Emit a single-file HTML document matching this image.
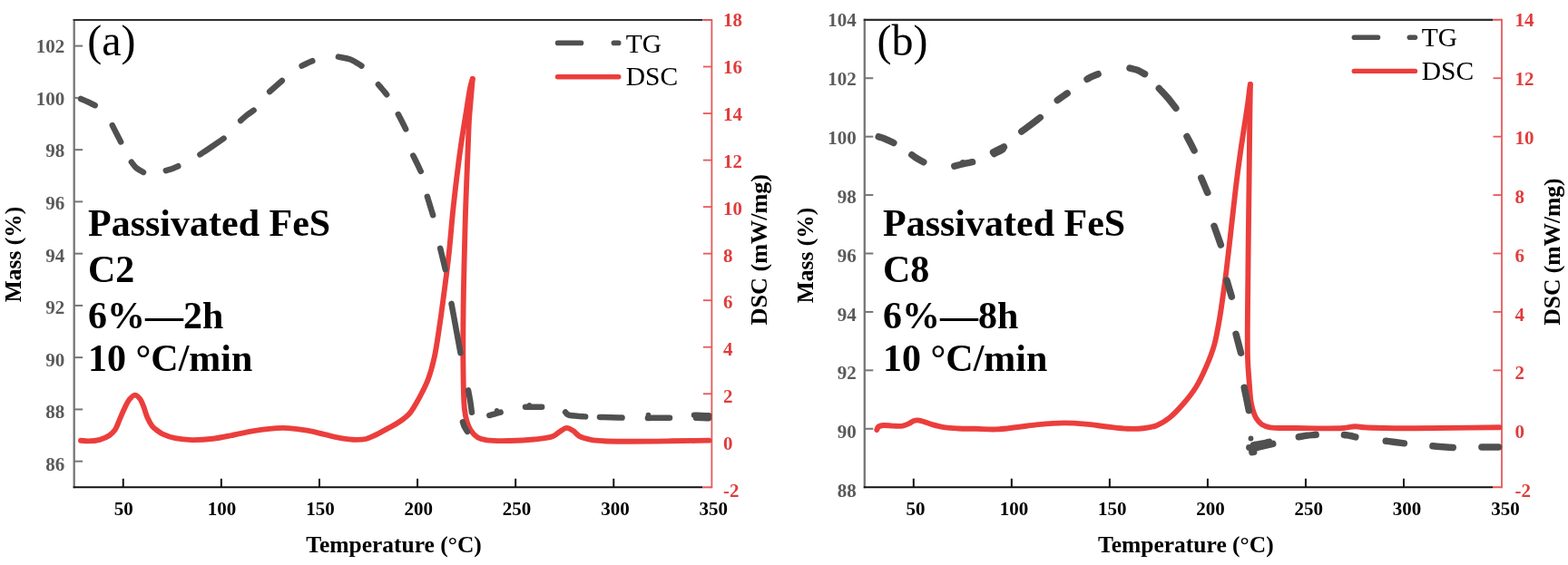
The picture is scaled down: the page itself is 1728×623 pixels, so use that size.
<!DOCTYPE html>
<html><head><meta charset="utf-8"><title>TG-DSC</title>
<style>html,body{margin:0;padding:0;background:#fff;overflow:hidden}svg{display:block}</style>
</head><body><div id="w">
<svg width="1728" height="623" viewBox="0 0 1728 623" font-family='"Liberation Serif", "Times New Roman", serif'>
<rect width="1728" height="623" fill="#fff"/>
<line x1="81.7" y1="21" x2="81.7" y2="538.3" stroke="#767676" stroke-width="2.3"/>
<line x1="81.7" y1="508.67" x2="91.2" y2="508.67" stroke="#767676" stroke-width="2"/>
<text x="71.2" y="519.08" font-size="21" font-weight="bold" fill="#5a5a5a" text-anchor="end">86</text>
<line x1="81.7" y1="451.42" x2="91.2" y2="451.42" stroke="#767676" stroke-width="2"/>
<text x="71.2" y="461.43" font-size="21" font-weight="bold" fill="#5a5a5a" text-anchor="end">88</text>
<line x1="81.7" y1="394.16" x2="91.2" y2="394.16" stroke="#767676" stroke-width="2"/>
<text x="71.2" y="403.79" font-size="21" font-weight="bold" fill="#5a5a5a" text-anchor="end">90</text>
<line x1="81.7" y1="336.91" x2="91.2" y2="336.91" stroke="#767676" stroke-width="2"/>
<text x="71.2" y="346.14" font-size="21" font-weight="bold" fill="#5a5a5a" text-anchor="end">92</text>
<line x1="81.7" y1="279.65" x2="91.2" y2="279.65" stroke="#767676" stroke-width="2"/>
<text x="71.2" y="288.5" font-size="21" font-weight="bold" fill="#5a5a5a" text-anchor="end">94</text>
<line x1="81.7" y1="222.39" x2="91.2" y2="222.39" stroke="#767676" stroke-width="2"/>
<text x="71.2" y="230.86" font-size="21" font-weight="bold" fill="#5a5a5a" text-anchor="end">96</text>
<line x1="81.7" y1="165.14" x2="91.2" y2="165.14" stroke="#767676" stroke-width="2"/>
<text x="71.2" y="173.21" font-size="21" font-weight="bold" fill="#5a5a5a" text-anchor="end">98</text>
<line x1="81.7" y1="107.88" x2="91.2" y2="107.88" stroke="#767676" stroke-width="2"/>
<text x="71.2" y="115.57" font-size="21" font-weight="bold" fill="#5a5a5a" text-anchor="end">100</text>
<line x1="81.7" y1="50.63" x2="91.2" y2="50.63" stroke="#767676" stroke-width="2"/>
<text x="71.2" y="57.92" font-size="21" font-weight="bold" fill="#5a5a5a" text-anchor="end">102</text>
<line x1="80.7" y1="22" x2="774.4" y2="22" stroke="#2e2e2e" stroke-width="2.2"/>
<line x1="80.7" y1="537.3" x2="774.4" y2="537.3" stroke="#111" stroke-width="2"/>
<line x1="135.75" y1="537.3" x2="135.75" y2="527.8" stroke="#111" stroke-width="2"/>
<text x="136.25" y="567.8" font-size="21" font-weight="bold" fill="#000" text-anchor="middle">50</text>
<line x1="243.86" y1="537.3" x2="243.86" y2="527.8" stroke="#111" stroke-width="2"/>
<text x="244.58" y="567.8" font-size="21" font-weight="bold" fill="#000" text-anchor="middle">100</text>
<line x1="351.97" y1="537.3" x2="351.97" y2="527.8" stroke="#111" stroke-width="2"/>
<text x="352.9" y="567.8" font-size="21" font-weight="bold" fill="#000" text-anchor="middle">150</text>
<line x1="460.08" y1="537.3" x2="460.08" y2="527.8" stroke="#111" stroke-width="2"/>
<text x="461.23" y="567.8" font-size="21" font-weight="bold" fill="#000" text-anchor="middle">200</text>
<line x1="568.18" y1="537.3" x2="568.18" y2="527.8" stroke="#111" stroke-width="2"/>
<text x="569.55" y="567.8" font-size="21" font-weight="bold" fill="#000" text-anchor="middle">250</text>
<line x1="676.29" y1="537.3" x2="676.29" y2="527.8" stroke="#111" stroke-width="2"/>
<text x="677.88" y="567.8" font-size="21" font-weight="bold" fill="#000" text-anchor="middle">300</text>
<text x="786.2" y="567.8" font-size="21" font-weight="bold" fill="#000" text-anchor="middle">350</text>
<line x1="784.4" y1="21" x2="784.4" y2="538.3" stroke="#e55a5a" stroke-width="1.8"/>
<line x1="774.4" y1="22" x2="784.4" y2="22" stroke="#e55a5a" stroke-width="2"/>
<line x1="774.4" y1="537.3" x2="784.4" y2="537.3" stroke="#e55a5a" stroke-width="2"/>
<text x="796.9" y="547.9" font-size="21" font-weight="bold" fill="#e03c3c" text-anchor="start">-2</text>
<line x1="774.9" y1="485.77" x2="784.4" y2="485.77" stroke="#e55a5a" stroke-width="1.8"/>
<text x="796.9" y="496.02" font-size="21" font-weight="bold" fill="#e03c3c" text-anchor="start">0</text>
<line x1="774.9" y1="434.24" x2="784.4" y2="434.24" stroke="#e55a5a" stroke-width="1.8"/>
<text x="796.9" y="444.14" font-size="21" font-weight="bold" fill="#e03c3c" text-anchor="start">2</text>
<line x1="774.9" y1="382.71" x2="784.4" y2="382.71" stroke="#e55a5a" stroke-width="1.8"/>
<text x="796.9" y="392.26" font-size="21" font-weight="bold" fill="#e03c3c" text-anchor="start">4</text>
<line x1="774.9" y1="331.18" x2="784.4" y2="331.18" stroke="#e55a5a" stroke-width="1.8"/>
<text x="796.9" y="340.38" font-size="21" font-weight="bold" fill="#e03c3c" text-anchor="start">6</text>
<line x1="774.9" y1="279.65" x2="784.4" y2="279.65" stroke="#e55a5a" stroke-width="1.8"/>
<text x="796.9" y="288.5" font-size="21" font-weight="bold" fill="#e03c3c" text-anchor="start">8</text>
<line x1="774.9" y1="228.12" x2="784.4" y2="228.12" stroke="#e55a5a" stroke-width="1.8"/>
<text x="796.9" y="236.62" font-size="21" font-weight="bold" fill="#e03c3c" text-anchor="start">10</text>
<line x1="774.9" y1="176.59" x2="784.4" y2="176.59" stroke="#e55a5a" stroke-width="1.8"/>
<text x="796.9" y="184.74" font-size="21" font-weight="bold" fill="#e03c3c" text-anchor="start">12</text>
<line x1="774.9" y1="125.06" x2="784.4" y2="125.06" stroke="#e55a5a" stroke-width="1.8"/>
<text x="796.9" y="132.86" font-size="21" font-weight="bold" fill="#e03c3c" text-anchor="start">14</text>
<line x1="774.9" y1="73.53" x2="784.4" y2="73.53" stroke="#e55a5a" stroke-width="1.8"/>
<text x="796.9" y="80.98" font-size="21" font-weight="bold" fill="#e03c3c" text-anchor="start">16</text>
<text x="796.9" y="29.1" font-size="21" font-weight="bold" fill="#e03c3c" text-anchor="start">18</text>
<path d="M89 485.7 C91.77 485.93 94.24 486.46 97.3 486.4 C101.09 486.32 106.05 485.88 110 484.8 C113.72 483.78 117.5 482.27 120.4 480.3 C122.99 478.54 124.98 476.55 126.8 473.9 C128.94 470.78 130.2 466.24 131.9 462.4 C133.6 458.54 135.22 454.47 137 450.8 C138.66 447.36 140.08 443.63 142.2 441 C144.04 438.72 146.5 435.65 148.6 435.6 C150.56 435.55 152.84 438.07 154.4 440 C156.13 442.15 156.95 445.12 158.2 448.2 C159.73 451.98 160.94 457.26 162.7 461.1 C164.24 464.45 165.83 467.62 167.9 470.1 C169.76 472.32 172.25 474.01 174.3 475.5 C176.02 476.75 177.14 477.59 179.3 478.6 C182.69 480.19 188.09 482.12 193.1 483.2 C198.78 484.42 205.16 484.97 211.7 485.1 C218.98 485.25 227.12 484.62 234.8 483.7 C242.55 482.77 250.28 480.97 258 479.5 C265.71 478.03 273.37 476.13 281.1 474.9 C288.8 473.67 297.55 472.51 304.3 472.1 C309.48 471.79 313.06 471.78 318.1 472.1 C324.25 472.49 331.89 473.53 338.5 474.7 C344.85 475.82 350.82 477.5 357 478.9 C363.19 480.3 369.55 482.09 375.6 483.1 C381.26 484.04 387.22 484.83 392.2 484.9 C396.27 484.96 399.82 484.81 403.3 484 C406.6 483.23 409.24 481.86 412.6 480.3 C416.82 478.35 421.84 475.49 426.5 472.9 C431.31 470.23 436.67 467.53 441 464.5 C444.91 461.76 448.55 459.02 451.5 455.7 C454.35 452.49 456.28 448.72 458.5 445 C460.79 441.16 462.88 437.22 465 433 C467.29 428.43 469.64 424.07 471.7 418.5 C474.31 411.44 476.72 402.61 478.7 393.8 C480.91 383.93 482.31 373.13 484 362 C485.86 349.77 487.57 336.57 489.3 323.4 C491.11 309.6 492.96 295.91 494.6 281 C496.42 264.42 497.61 246.79 499.6 228.4 C501.8 208.05 504.8 182.95 507.4 164.2 C509.43 149.51 511.54 137.19 513.5 125 C515.22 114.33 516.97 101.78 518.5 95 C519.3 91.45 520.03 89.67 520.8 87" fill="none" stroke="#eb3e3c" stroke-width="5.9" stroke-linecap="round" stroke-linejoin="round"/>
<path d="M520.8 87 C520.13 94.67 519.44 102.42 518.8 110 C518.17 117.41 517.49 123.96 517 132 C516.41 141.71 516.2 151.63 515.7 164.2 C515 181.94 513.9 207 513.2 228.4 C512.5 249.8 511.95 272.82 511.5 292.6 C511.11 309.6 510.79 323.27 510.6 340 C510.39 358.82 510.15 380.82 510.4 400 C510.63 417.67 510.67 439.4 511.9 450.9 C512.54 456.87 513.12 460.26 514.4 464.4 C515.56 468.17 516.95 471.77 519 474.8 C520.96 477.7 523.4 480.55 526.3 482.3 C529.22 484.06 532.26 484.63 536.5 485.3 C543.14 486.35 553.91 486.13 562.6 486 C571.28 485.87 580.43 485.4 588.6 484.5 C595.97 483.69 604.49 483.16 609.5 481.1 C612.76 479.76 614.27 477.44 616.8 475.9 C619.3 474.38 622.07 471.99 624.6 471.9 C626.92 471.82 629.2 473.43 631.4 474.8 C633.92 476.37 635.73 479.48 638.7 481.1 C642.15 482.98 646.89 483.95 651.2 484.8 C655.65 485.68 659.71 485.88 665 486.2 C672.1 486.63 680.24 486.64 690 486.7 C703.81 486.78 724.11 486.5 740 486.3 C754.48 486.12 767.67 485.83 781.5 485.6" fill="none" stroke="#eb3e3c" stroke-width="5.9" stroke-linecap="round" stroke-linejoin="round"/>
<path d="M89.1 108.98 C91.4 109.99 93.58 110.88 96 112 C98.73 113.26 101.77 114.81 104.65 116.21" fill="none" stroke="#505050" stroke-width="6.5" stroke-linecap="round" stroke-linejoin="round"/>
<path d="M123.82 138.14 C125.21 140.93 126.52 143.6 128 146.5 C129.61 149.66 131.43 153.09 133.14 156.38" fill="none" stroke="#505050" stroke-width="6.5" stroke-linecap="round" stroke-linejoin="round"/>
<path d="M144.88 178.78 C146.58 180.85 147.93 183.19 150 185 C152.24 186.96 155.33 188.3 157.99 189.95" fill="none" stroke="#505050" stroke-width="6.5" stroke-linecap="round" stroke-linejoin="round"/>
<path d="M182.83 188.15 C185.22 187.43 187.71 186.85 190 186 C192.2 185.19 194.2 184.13 196.3 183.2" fill="none" stroke="#505050" stroke-width="6.5" stroke-linecap="round" stroke-linejoin="round"/>
<path d="M220.45 170.36 C224.64 167.58 228.75 164.88 233 162 C237.44 158.99 242.05 155.78 246.57 152.67" fill="none" stroke="#505050" stroke-width="6.5" stroke-linecap="round" stroke-linejoin="round"/>
<path d="M265.2 133.04 C267.47 131.03 269.62 128.88 272 127 C274.41 125.1 277.06 123.46 279.58 121.69" fill="none" stroke="#505050" stroke-width="6.5" stroke-linecap="round" stroke-linejoin="round"/>
<path d="M297.2 101.04 C299.47 99.03 301.73 97.01 304 95 C306.27 92.99 308.53 90.97 310.8 88.96" fill="none" stroke="#505050" stroke-width="6.5" stroke-linecap="round" stroke-linejoin="round"/>
<path d="M332.64 72.68 C334.43 71.79 336.13 70.88 338 70 C340.01 69.05 342.2 68.13 344.3 67.2" fill="none" stroke="#505050" stroke-width="6.5" stroke-linecap="round" stroke-linejoin="round"/>
<path d="M372.88 62.63 C377.25 63.59 381.8 63.89 386 65.5 C390.33 67.16 394.29 70.2 398.43 72.55" fill="none" stroke="#505050" stroke-width="6.5" stroke-linecap="round" stroke-linejoin="round"/>
<path d="M416.92 93.24 C418.28 94.83 419.57 96.3 421 98 C422.62 99.93 424.42 102.15 426.12 104.22" fill="none" stroke="#505050" stroke-width="6.5" stroke-linecap="round" stroke-linejoin="round"/>
<path d="M438.87 126.11 C440.25 128.74 441.63 131.33 443 134 C444.4 136.74 445.79 139.57 447.18 142.36" fill="none" stroke="#505050" stroke-width="6.5" stroke-linecap="round" stroke-linejoin="round"/>
<path d="M455.32 171.64 C456.71 174.43 458.11 177.17 459.5 180 C460.92 182.9 462.32 185.89 463.73 188.84" fill="none" stroke="#505050" stroke-width="6.5" stroke-linecap="round" stroke-linejoin="round"/>
<path d="M470.87 216.82 C471.91 220.21 472.96 223.61 474 227 C475.04 230.39 476.09 233.79 477.13 237.18" fill="none" stroke="#505050" stroke-width="6.5" stroke-linecap="round" stroke-linejoin="round"/>
<path d="M485.19 273.87 C486.13 277.75 487.06 281.62 488 285.5 C488.94 289.38 489.87 293.25 490.81 297.13" fill="none" stroke="#505050" stroke-width="6.5" stroke-linecap="round" stroke-linejoin="round"/>
<path d="M497.53 334.9 C499.19 343.93 500.84 352.97 502.5 362 C504.16 371.03 505.81 380.07 507.47 389.1" fill="none" stroke="#505050" stroke-width="6.5" stroke-linecap="round" stroke-linejoin="round"/>
<path d="M516.04 430.4 C516.76 434.27 517.57 438.04 518.2 442 C518.86 446.12 519.34 450.45 519.91 454.68" fill="none" stroke="#505050" stroke-width="6.5" stroke-linecap="round" stroke-linejoin="round"/>
<path d="M509.93 465.3 C510.46 466.87 510.76 468.38 511.5 470 C512.37 471.91 513.84 473.97 515 475.96" fill="none" stroke="#505050" stroke-width="6.5" stroke-linecap="round" stroke-linejoin="round"/>
<path d="M539.34 458.01 C541.39 457.44 543.45 456.87 545.5 456.3 C547.55 455.73 549.61 455.16 551.66 454.59" fill="none" stroke="#505050" stroke-width="6.5" stroke-linecap="round" stroke-linejoin="round"/>
<circle cx="547.5" cy="452.5" r="2.6" fill="#505050"/>
<path d="M579.05 448.8 C582.03 448.8 585 448.8 588 448.8 C591.03 448.8 594.1 448.8 597.15 448.8" fill="none" stroke="#505050" stroke-width="6.5" stroke-linecap="round" stroke-linejoin="round"/>
<circle cx="583.4" cy="446.5" r="2.6" fill="#505050"/>
<path d="M623.11 454.46 C624.07 455.41 624.42 456.55 626 457.3 C629.45 458.93 638.78 458.69 645.17 459.38" fill="none" stroke="#505050" stroke-width="6.5" stroke-linecap="round" stroke-linejoin="round"/>
<path d="M660.95 459.88 C664.97 459.99 668.94 460.08 673 460.2 C677.14 460.32 681.37 460.47 685.55 460.6" fill="none" stroke="#505050" stroke-width="6.5" stroke-linecap="round" stroke-linejoin="round"/>
<path d="M713.95 460.96 C717.97 460.91 721.98 460.83 726 460.8 C730.02 460.77 734.03 460.8 738.05 460.8" fill="none" stroke="#505050" stroke-width="6.5" stroke-linecap="round" stroke-linejoin="round"/>
<circle cx="714.5" cy="457.5" r="2.8" fill="#505050"/>
<path d="M764.95 457.63 C767.63 457.76 770.32 457.88 773 458 C775.68 458.12 778.37 458.24 781.05 458.37" fill="none" stroke="#505050" stroke-width="6.5" stroke-linecap="round" stroke-linejoin="round"/>
<path d="M766.95 460.65 C769.3 460.76 771.65 460.91 774 461 C776.35 461.09 778.7 461.14 781.05 461.21" fill="none" stroke="#505050" stroke-width="6.5" stroke-linecap="round" stroke-linejoin="round"/>
<line x1="614.6" y1="47.4" x2="640.5" y2="47.4" stroke="#505050" stroke-width="5.6" stroke-linecap="round"/>
<line x1="676.4" y1="47.4" x2="681.7" y2="47.4" stroke="#505050" stroke-width="5.6" stroke-linecap="round"/>
<line x1="614.5" y1="84.7" x2="681.8" y2="84.7" stroke="#eb3e3c" stroke-width="5.4" stroke-linecap="round"/>
<text x="689.8" y="57.7" font-size="29.5" font-weight="normal" fill="#000" text-anchor="start">TG</text>
<text x="689.8" y="94.3" font-size="29.5" font-weight="normal" fill="#000" text-anchor="start">DSC</text>
<text x="96.3" y="60.6" font-size="48" font-weight="normal" fill="#000" text-anchor="start">(a)</text>
<text x="97" y="260.3" font-size="42" font-weight="bold" fill="#000" text-anchor="start">Passivated FeS</text>
<text x="97" y="310.5" font-size="42" font-weight="bold" fill="#000" text-anchor="start">C2</text>
<text x="97" y="362" font-size="42" font-weight="bold" fill="#000" text-anchor="start">6%—2h</text>
<text x="97" y="408.5" font-size="42" font-weight="bold" fill="#000" text-anchor="start">10 °C/min</text>
<text x="434.05" y="609" font-size="25.5" font-weight="bold" fill="#000" text-anchor="middle">Temperature (°C)</text>
<text x="0" y="0" font-size="25.5" font-weight="bold" fill="#000" text-anchor="middle" transform="translate(22.9 280.6) rotate(-90)">Mass (%)</text>
<text x="0" y="0" font-size="26.2" font-weight="bold" fill="#000" text-anchor="middle" transform="translate(845.1 275.2) rotate(-90)">DSC (mW/mg)</text>
<line x1="952.8" y1="20.8" x2="952.8" y2="538.2" stroke="#767676" stroke-width="2.3"/>
<text x="943.8" y="548.3" font-size="21" font-weight="bold" fill="#5a5a5a" text-anchor="end">88</text>
<line x1="952.8" y1="472.78" x2="962.3" y2="472.78" stroke="#767676" stroke-width="2"/>
<text x="943.8" y="483.38" font-size="21" font-weight="bold" fill="#5a5a5a" text-anchor="end">90</text>
<line x1="952.8" y1="408.35" x2="962.3" y2="408.35" stroke="#767676" stroke-width="2"/>
<text x="943.8" y="418.45" font-size="21" font-weight="bold" fill="#5a5a5a" text-anchor="end">92</text>
<line x1="952.8" y1="343.93" x2="962.3" y2="343.93" stroke="#767676" stroke-width="2"/>
<text x="943.8" y="353.53" font-size="21" font-weight="bold" fill="#5a5a5a" text-anchor="end">94</text>
<line x1="952.8" y1="279.5" x2="962.3" y2="279.5" stroke="#767676" stroke-width="2"/>
<text x="943.8" y="288.6" font-size="21" font-weight="bold" fill="#5a5a5a" text-anchor="end">96</text>
<line x1="952.8" y1="215.07" x2="962.3" y2="215.07" stroke="#767676" stroke-width="2"/>
<text x="943.8" y="223.67" font-size="21" font-weight="bold" fill="#5a5a5a" text-anchor="end">98</text>
<line x1="952.8" y1="150.65" x2="962.3" y2="150.65" stroke="#767676" stroke-width="2"/>
<text x="943.8" y="158.75" font-size="21" font-weight="bold" fill="#5a5a5a" text-anchor="end">100</text>
<line x1="952.8" y1="86.22" x2="962.3" y2="86.22" stroke="#767676" stroke-width="2"/>
<text x="943.8" y="93.82" font-size="21" font-weight="bold" fill="#5a5a5a" text-anchor="end">102</text>
<text x="943.8" y="28.9" font-size="21" font-weight="bold" fill="#5a5a5a" text-anchor="end">104</text>
<line x1="951.8" y1="21.8" x2="1645" y2="21.8" stroke="#2e2e2e" stroke-width="2.2"/>
<line x1="951.8" y1="537.2" x2="1645" y2="537.2" stroke="#111" stroke-width="2"/>
<line x1="1006.82" y1="537.2" x2="1006.82" y2="527.7" stroke="#111" stroke-width="2"/>
<text x="1009.12" y="568.2" font-size="21" font-weight="bold" fill="#000" text-anchor="middle">50</text>
<line x1="1114.85" y1="537.2" x2="1114.85" y2="527.7" stroke="#111" stroke-width="2"/>
<text x="1117.41" y="568.2" font-size="21" font-weight="bold" fill="#000" text-anchor="middle">100</text>
<line x1="1222.88" y1="537.2" x2="1222.88" y2="527.7" stroke="#111" stroke-width="2"/>
<text x="1225.71" y="568.2" font-size="21" font-weight="bold" fill="#000" text-anchor="middle">150</text>
<line x1="1330.91" y1="537.2" x2="1330.91" y2="527.7" stroke="#111" stroke-width="2"/>
<text x="1334.01" y="568.2" font-size="21" font-weight="bold" fill="#000" text-anchor="middle">200</text>
<line x1="1438.94" y1="537.2" x2="1438.94" y2="527.7" stroke="#111" stroke-width="2"/>
<text x="1442.31" y="568.2" font-size="21" font-weight="bold" fill="#000" text-anchor="middle">250</text>
<line x1="1546.97" y1="537.2" x2="1546.97" y2="527.7" stroke="#111" stroke-width="2"/>
<text x="1550.6" y="568.2" font-size="21" font-weight="bold" fill="#000" text-anchor="middle">300</text>
<text x="1658.9" y="568.2" font-size="21" font-weight="bold" fill="#000" text-anchor="middle">350</text>
<line x1="1655" y1="20.8" x2="1655" y2="538.2" stroke="#e55a5a" stroke-width="1.8"/>
<line x1="1645" y1="21.8" x2="1655" y2="21.8" stroke="#e55a5a" stroke-width="2"/>
<line x1="1645" y1="537.2" x2="1655" y2="537.2" stroke="#e55a5a" stroke-width="2"/>
<text x="1669.5" y="548.3" font-size="21" font-weight="bold" fill="#e03c3c" text-anchor="start">-2</text>
<line x1="1645.5" y1="472.78" x2="1655" y2="472.78" stroke="#e55a5a" stroke-width="1.8"/>
<text x="1669.5" y="483.38" font-size="21" font-weight="bold" fill="#e03c3c" text-anchor="start">0</text>
<line x1="1645.5" y1="408.35" x2="1655" y2="408.35" stroke="#e55a5a" stroke-width="1.8"/>
<text x="1669.5" y="418.45" font-size="21" font-weight="bold" fill="#e03c3c" text-anchor="start">2</text>
<line x1="1645.5" y1="343.93" x2="1655" y2="343.93" stroke="#e55a5a" stroke-width="1.8"/>
<text x="1669.5" y="353.53" font-size="21" font-weight="bold" fill="#e03c3c" text-anchor="start">4</text>
<line x1="1645.5" y1="279.5" x2="1655" y2="279.5" stroke="#e55a5a" stroke-width="1.8"/>
<text x="1669.5" y="288.6" font-size="21" font-weight="bold" fill="#e03c3c" text-anchor="start">6</text>
<line x1="1645.5" y1="215.07" x2="1655" y2="215.07" stroke="#e55a5a" stroke-width="1.8"/>
<text x="1669.5" y="223.67" font-size="21" font-weight="bold" fill="#e03c3c" text-anchor="start">8</text>
<line x1="1645.5" y1="150.65" x2="1655" y2="150.65" stroke="#e55a5a" stroke-width="1.8"/>
<text x="1669.5" y="158.75" font-size="21" font-weight="bold" fill="#e03c3c" text-anchor="start">10</text>
<line x1="1645.5" y1="86.22" x2="1655" y2="86.22" stroke="#e55a5a" stroke-width="1.8"/>
<text x="1669.5" y="93.82" font-size="21" font-weight="bold" fill="#e03c3c" text-anchor="start">12</text>
<text x="1669.5" y="28.9" font-size="21" font-weight="bold" fill="#e03c3c" text-anchor="start">14</text>
<path d="M966.3 474 C966.87 472.87 967 471.42 968 470.6 C969.25 469.57 971.58 469.23 973.8 469 C976.68 468.7 980.48 469.5 983.9 469.6 C987.44 469.71 991.5 470.17 994.7 469.6 C997.42 469.11 999.83 467.92 1002 466.9 C1003.87 466.02 1005.33 464.57 1007 464 C1008.46 463.5 1009.89 463.34 1011.4 463.4 C1013.02 463.47 1014.43 463.96 1016.4 464.5 C1019.35 465.31 1023.39 467.01 1027.3 468.1 C1031.74 469.34 1036.86 470.67 1041.7 471.4 C1046.5 472.13 1051.05 472.26 1056.2 472.5 C1062.06 472.77 1068.41 472.66 1075 472.8 C1082.3 472.95 1090.4 473.7 1098.1 473.4 C1105.83 473.1 1113.58 471.88 1121.3 471 C1129.01 470.12 1136.33 468.85 1144.4 468.1 C1153.23 467.28 1163.24 466.45 1172.2 466.4 C1180.57 466.35 1188.51 466.9 1196.5 467.6 C1204.34 468.28 1211.97 469.63 1219.7 470.5 C1227.4 471.36 1235.64 472.55 1242.8 472.8 C1249 473.02 1254.71 472.97 1260.2 472.3 C1265.23 471.69 1269.86 471.04 1274.5 469.2 C1279.48 467.23 1284.39 464.11 1289 460.5 C1294.07 456.53 1298.76 451.31 1303.4 446 C1308.39 440.28 1313.54 434.01 1317.8 427.2 C1322.25 420.09 1326 411.89 1329.4 404.1 C1332.72 396.49 1335.64 389.24 1338 381 C1340.58 371.98 1342.2 361.68 1343.9 352 C1345.59 342.38 1346.91 332.2 1348.2 323.1 C1349.35 314.97 1350.17 309.1 1351.3 300 C1352.93 286.9 1354.99 267.92 1356.8 252 C1358.59 236.25 1360.33 219.51 1362.1 205 C1363.63 192.47 1365.12 181.21 1366.7 170 C1368.16 159.61 1369.76 149.54 1371.2 140 C1372.52 131.29 1373.93 122.66 1375 115 C1375.91 108.51 1376.77 100.84 1377.3 97 C1377.55 95.19 1377.7 94.33 1377.9 93" fill="none" stroke="#eb3e3c" stroke-width="5.9" stroke-linecap="round" stroke-linejoin="round"/>
<path d="M1377.9 93 C1377.73 103.17 1377.57 110.88 1377.4 123.5 C1377.12 144.12 1376.82 176.79 1376.5 205 C1376.16 235.45 1375.65 268.33 1375.4 300 C1375.15 331.67 1374.36 373.53 1375 395 C1375.33 406.02 1375.92 411.61 1376.6 420 C1377.29 428.51 1377.51 438.3 1379.1 445.7 C1380.36 451.57 1381.97 457.15 1384.3 461.1 C1386.08 464.12 1388.14 466.4 1390.7 468.1 C1393.27 469.81 1395.76 470.57 1399.7 471.3 C1406.63 472.58 1418.01 471.87 1429.2 472 C1443.95 472.17 1469.1 472.79 1480.5 472 C1486.25 471.6 1489.35 470.26 1493.4 470.2 C1497 470.14 1499.57 471.02 1503.6 471.3 C1509.42 471.71 1517 471.85 1525 472 C1535.2 472.2 1545.41 472.23 1559.8 472.2 C1583.28 472.15 1621.6 471.6 1652.5 471.3" fill="none" stroke="#eb3e3c" stroke-width="5.9" stroke-linecap="round" stroke-linejoin="round"/>
<path d="M968.24 150.68 C970.83 151.62 973.35 152.41 976 153.5 C978.88 154.68 981.91 156.21 984.86 157.56" fill="none" stroke="#505050" stroke-width="7.5" stroke-linecap="round" stroke-linejoin="round"/>
<path d="M1004.84 170.76 C1006.89 172.17 1008.86 173.68 1011 175 C1013.17 176.34 1015.52 177.49 1017.78 178.74" fill="none" stroke="#505050" stroke-width="7.5" stroke-linecap="round" stroke-linejoin="round"/>
<path d="M1051.84 183.14 C1054.89 182.36 1057.82 181.52 1061 180.8 C1064.4 180.03 1068.08 179.38 1071.62 178.68" fill="none" stroke="#505050" stroke-width="7.5" stroke-linecap="round" stroke-linejoin="round"/>
<circle cx="1061" cy="179" r="3" fill="#505050"/>
<path d="M1094.55 167.89 C1096.37 166.92 1098.1 165.95 1100 165 C1102.03 163.98 1104.25 162.98 1106.38 161.98" fill="none" stroke="#505050" stroke-width="7.5" stroke-linecap="round" stroke-linejoin="round"/>
<path d="M1095.62 169.53 C1097.41 168.69 1099.35 167.86 1101 167 C1102.45 166.25 1103.67 165.47 1105 164.71" fill="none" stroke="#505050" stroke-width="7.5" stroke-linecap="round" stroke-linejoin="round"/>
<path d="M1125.79 144.96 C1129.19 142.48 1132.61 140.04 1136 137.5 C1139.43 134.93 1142.84 132.24 1146.27 129.6" fill="none" stroke="#505050" stroke-width="7.5" stroke-linecap="round" stroke-linejoin="round"/>
<path d="M1165.32 110.51 C1167.21 109.17 1169.15 107.79 1171 106.5 C1172.76 105.28 1174.44 104.14 1176.16 102.95" fill="none" stroke="#505050" stroke-width="7.5" stroke-linecap="round" stroke-linejoin="round"/>
<path d="M1198.07 87.23 C1200.05 86.22 1201.99 85.12 1204 84.2 C1206 83.28 1208.07 82.54 1210.11 81.7" fill="none" stroke="#505050" stroke-width="7.5" stroke-linecap="round" stroke-linejoin="round"/>
<path d="M1245.03 75.09 C1248.02 75.9 1251.2 76.38 1254 77.5 C1256.7 78.58 1259.05 80.26 1261.57 81.64" fill="none" stroke="#505050" stroke-width="7.5" stroke-linecap="round" stroke-linejoin="round"/>
<path d="M1277.34 97.54 C1280.56 101.02 1283.92 104.38 1287 108 C1290.09 111.63 1292.91 115.52 1295.87 119.29" fill="none" stroke="#505050" stroke-width="7.5" stroke-linecap="round" stroke-linejoin="round"/>
<path d="M1308.02 150.54 C1309.35 153.03 1310.68 155.47 1312 158 C1313.35 160.6 1314.69 163.28 1316.03 165.93" fill="none" stroke="#505050" stroke-width="7.5" stroke-linecap="round" stroke-linejoin="round"/>
<path d="M1323.85 196.18 C1325 198.88 1326.15 201.59 1327.3 204.3 C1328.45 207.01 1329.6 209.72 1330.75 212.42" fill="none" stroke="#505050" stroke-width="7.5" stroke-linecap="round" stroke-linejoin="round"/>
<path d="M1338.05 249.25 C1339.27 252.7 1340.48 256.14 1341.7 259.6 C1342.92 263.07 1344.14 266.56 1345.36 270.04" fill="none" stroke="#505050" stroke-width="7.5" stroke-linecap="round" stroke-linejoin="round"/>
<path d="M1351.98 309.11 C1352.85 312.07 1353.72 315.02 1354.6 318 C1355.49 321.01 1356.41 324.06 1357.31 327.09" fill="none" stroke="#505050" stroke-width="7.5" stroke-linecap="round" stroke-linejoin="round"/>
<path d="M1362.08 368.34 C1362.98 371.79 1363.89 375.24 1364.8 378.7 C1365.71 382.18 1366.62 385.67 1367.53 389.16" fill="none" stroke="#505050" stroke-width="7.5" stroke-linecap="round" stroke-linejoin="round"/>
<path d="M1371.2 427.38 C1372.06 431.59 1372.95 435.79 1373.8 440 C1374.65 444.2 1375.48 448.41 1376.32 452.62" fill="none" stroke="#505050" stroke-width="7.5" stroke-linecap="round" stroke-linejoin="round"/>
<path d="M1379.33 495.11 C1383.22 494.07 1387.1 492.97 1391 492 C1394.9 491.03 1398.83 490.19 1402.74 489.28" fill="none" stroke="#505050" stroke-width="7.5" stroke-linecap="round" stroke-linejoin="round"/>
<path d="M1381.4 490.89 C1384.93 490.26 1388.89 489.67 1392 489 C1394.49 488.47 1396.44 487.89 1398.65 487.34" fill="none" stroke="#505050" stroke-width="7.5" stroke-linecap="round" stroke-linejoin="round"/>
<path d="M1379.86 498.71 L1381.64 498.29" fill="none" stroke="#505050" stroke-width="7.5" stroke-linecap="round" stroke-linejoin="round"/>
<circle cx="1378.5" cy="483.5" r="2.9" fill="#505050"/>
<circle cx="1376.5" cy="493.5" r="3.4" fill="#505050"/>
<path d="M1431.3 481.74 C1434.2 481.26 1436.98 480.69 1440 480.3 C1443.25 479.88 1446.78 479.65 1450.17 479.33" fill="none" stroke="#505050" stroke-width="7.5" stroke-linecap="round" stroke-linejoin="round"/>
<path d="M1481.41 479.51 C1483.61 479.84 1485.88 480.1 1488 480.5 C1490.01 480.88 1491.89 481.39 1493.84 481.83" fill="none" stroke="#505050" stroke-width="7.5" stroke-linecap="round" stroke-linejoin="round"/>
<path d="M1527.22 486.17 C1530.48 486.61 1533.69 487.06 1537 487.5 C1540.41 487.95 1543.92 488.4 1547.38 488.85" fill="none" stroke="#505050" stroke-width="7.5" stroke-linecap="round" stroke-linejoin="round"/>
<path d="M1578.94 491.86 C1582.63 492.14 1586.3 492.42 1590 492.7 C1593.74 492.98 1597.51 493.26 1601.26 493.54" fill="none" stroke="#505050" stroke-width="7.5" stroke-linecap="round" stroke-linejoin="round"/>
<path d="M1632.95 492.9 L1651.55 492.9" fill="none" stroke="#505050" stroke-width="7.5" stroke-linecap="round" stroke-linejoin="round"/>
<line x1="1492.4" y1="41.2" x2="1518.5" y2="41.2" stroke="#505050" stroke-width="5.6" stroke-linecap="round"/>
<line x1="1553.4" y1="41.2" x2="1559.4" y2="41.2" stroke="#505050" stroke-width="5.6" stroke-linecap="round"/>
<line x1="1492.3" y1="78.4" x2="1559.5" y2="78.4" stroke="#eb3e3c" stroke-width="5.4" stroke-linecap="round"/>
<text x="1566.8" y="51.2" font-size="29.5" font-weight="normal" fill="#000" text-anchor="start">TG</text>
<text x="1566.8" y="88" font-size="29.5" font-weight="normal" fill="#000" text-anchor="start">DSC</text>
<text x="966.4" y="61.3" font-size="48" font-weight="normal" fill="#000" text-anchor="start">(b)</text>
<text x="973" y="260.3" font-size="42" font-weight="bold" fill="#000" text-anchor="start">Passivated FeS</text>
<text x="973" y="310.5" font-size="42" font-weight="bold" fill="#000" text-anchor="start">C8</text>
<text x="973" y="362" font-size="42" font-weight="bold" fill="#000" text-anchor="start">6%—8h</text>
<text x="973" y="408.5" font-size="42" font-weight="bold" fill="#000" text-anchor="start">10 °C/min</text>
<text x="1306.9" y="609" font-size="25.5" font-weight="bold" fill="#000" text-anchor="middle">Temperature (°C)</text>
<text x="0" y="0" font-size="25.5" font-weight="bold" fill="#000" text-anchor="middle" transform="translate(896 281.6) rotate(-90)">Mass (%)</text>
<text x="0" y="0" font-size="25.5" font-weight="bold" fill="#000" text-anchor="middle" transform="translate(1719.1 277.6) rotate(-90)">DSC (mW/mg)</text>
</svg>
</div></body></html>
